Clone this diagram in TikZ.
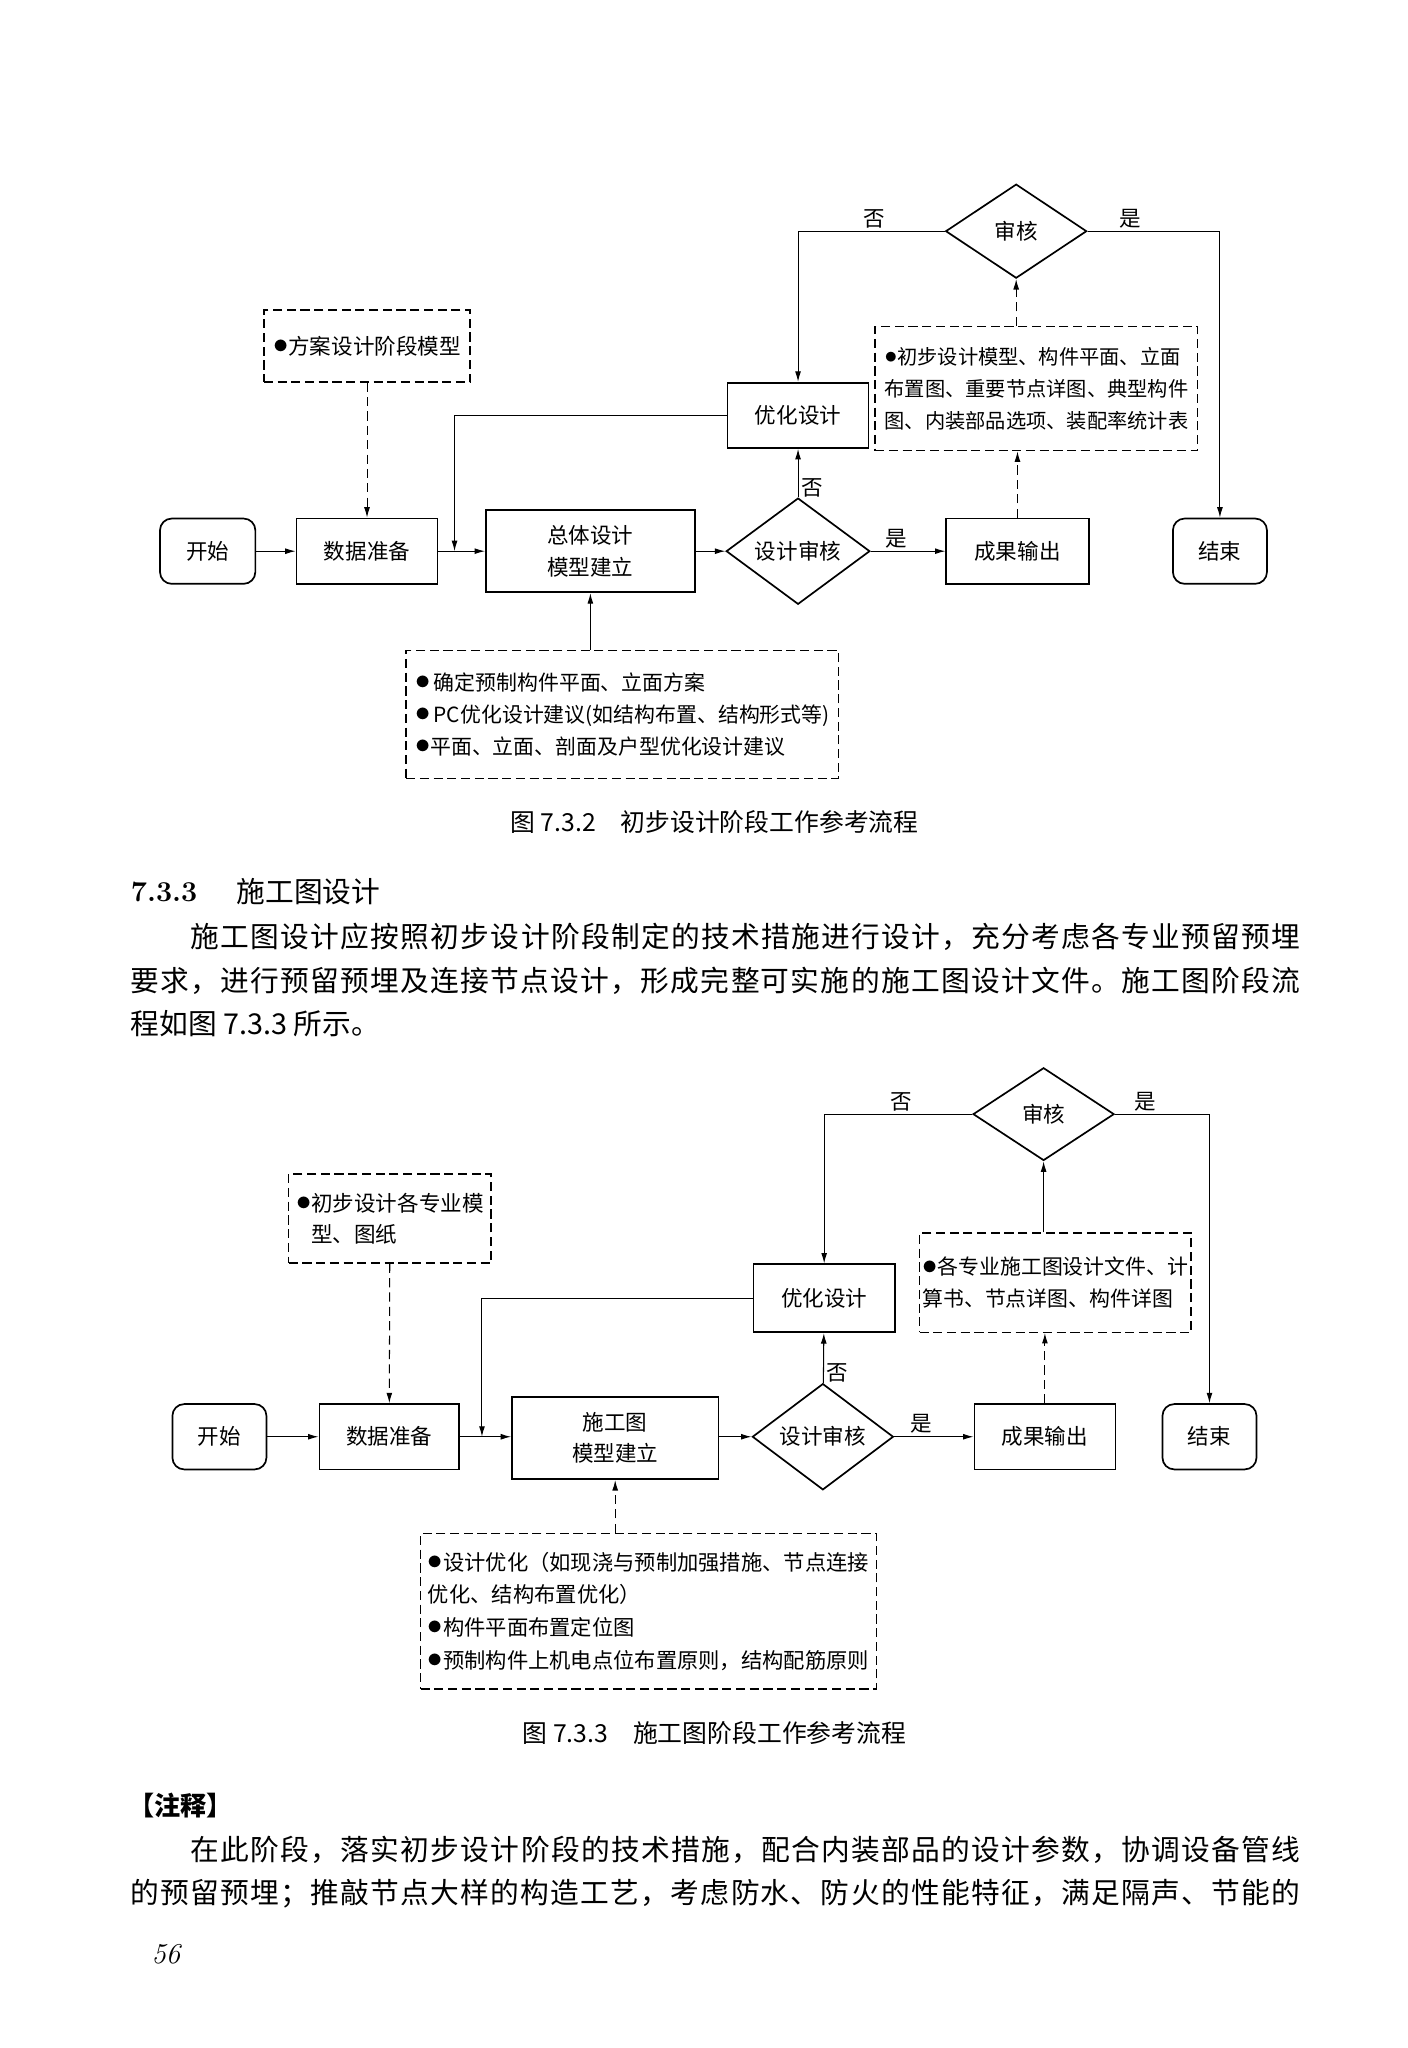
\documentclass[tikz,border=0pt]{standalone}
\usepackage{fontspec}
\newfontfamily\cjk{Noto Sans CJK SC}
\usetikzlibrary{shapes.geometric,arrows.meta}

\newcommand\chartfont{\cjk\fontsize{16.5}{24}\selectfont}
\newcommand\notefont{\cjk\fontsize{16}{24.5}\selectfont}
\newcommand\bodyfont{\cjk\fontsize{22}{30}\selectfont}
\newcommand\capfont{\cjk\fontsize{19}{24}\selectfont}
\newcommand\dotmark{\raisebox{0.02em}{\scalebox{1.35}{$\bullet$}}}

\ExplSyntaxOn
\NewDocumentCommand\spreadline{mm}
  {\makebox[#1][s]{\tl_map_inline:nn {#2} {##1\hfil}\unskip}}
\ExplSyntaxOff

\tikzset{
  box/.style={draw, line width=1.3pt, minimum width=108pt, minimum height=50pt, inner sep=2pt, align=center, font=\chartfont},
  term/.style={box, rounded corners=9pt, minimum width=73pt},
  decision/.style={diamond, draw, line width=1.3pt, inner sep=0pt, font=\chartfont},
  notebox/.style={draw, dash pattern=on 7pt off 3.5pt, line width=1.1pt, inner sep=0pt, align=left, font=\notefont},
  flow/.style={line width=0.8pt, -{Latex[length=8pt,width=4.5pt]}},
  dflow/.style={flow, dash pattern=on 7pt off 4pt},
  branch/.style={font=\chartfont, inner sep=2pt},
  bodyline/.style={anchor=west, inner sep=0pt, font=\bodyfont},
}

\begin{document}
\begin{tikzpicture}[x=1pt,y=1pt,yscale=-1,xscale=1]
    \fill[white] (0,0) rectangle (1078,1568);
    \useasboundingbox (0,0) rectangle (1078,1568);

    % ---------- Fig 7.3.2 ----------
    %Shape: Rounded Rect
    \node[term] (start1) at (159,422) {开始};
    %Shape: Rectangle
    \node[box] (data1) at (281,422) {数据准备};
    \node[box, minimum width=160pt, minimum height=63pt] (model1) at (452,422) {总体设计\\模型建立};
    %Shape: Diamond
    \node[decision, minimum width=110pt, minimum height=71pt] (check1) at (611,422) {设计审核};
    \node[box, minimum width=109pt] (out1) at (779,422) {成果输出};
    \node[term, minimum width=72pt] (end1) at (934,422) {结束};
    \node[box] (opt1) at (611,318) {优化设计};
    \node[decision, minimum width=108pt, minimum height=72pt] (rev1) at (778,177) {审核};
    %Shape: Dashed Rect
    \node[notebox, minimum width=158pt, minimum height=55pt, font=\cjk\fontsize{16.5}{24}\selectfont] (in1) at (281,265) {\dotmark 方案设计阶段模型};
    \node[notebox, minimum width=247pt, minimum height=95pt, font=\cjk\fontsize{15.5}{24.5}\selectfont] (res1) at (793.5,297.5)
      {\dotmark 初步设计模型、构件平面、立面\\布置图、重要节点详图、典型构件\\图、内装部品选项、装配率统计表};
    \node[notebox, minimum width=331pt, minimum height=98pt] (sug1) at (476.5,547)
      {\dotmark\,确定预制构件平面、立面方案\\\dotmark\,PC优化设计建议(如结构布置、结构形式等)\\\dotmark 平面、立面、剖面及户型优化设计建议};
    \coordinate (fb1) at (348,422);

    %Lines
    \draw[flow] (start1) -- (data1);
    \draw[flow] (data1) -- (model1);
    \draw[flow] (model1) -- (check1);
    \draw[flow] (check1) -- node[branch, above, pos=0.34] (yes1) {是} (out1);
    \draw[flow] (check1) -- node[branch, right, pos=0.2] (no1) {否} (opt1);
    \draw[flow] (opt1.west) -| (fb1);
    \draw[dflow] (in1) -- (data1);
    \draw[flow] (model1.south |- sug1.north) -- (model1.south);
    \draw[dflow] (out1) -- (out1 |- res1.south);
    \draw[dflow] (rev1.south |- res1.north) -- (rev1.south);
    \draw[flow] (rev1.west) -| node[branch, above, pos=0.24] (no1b) {否} (opt1.north);
    \draw[flow] (rev1.east) -| node[branch, above, pos=0.16] (yes1b) {是} (end1.north);

    % Text Node
    \node[font=\capfont] (cap1) at (547,629) {图 7.3.2\quad 初步设计阶段工作参考流程};

    % ---------- Section 7.3.3 ----------
    \node[anchor=west, inner sep=0pt, font=\fontsize{22}{26}\selectfont\bfseries] (secnum) at (100,683) {7.3.3};
    \node[bodyline] (sectitle) at (181,683) {施工图设计};
    \node[bodyline] (para1) at (146,717) {\spreadline{849pt}{施工图设计应按照初步设计阶段制定的技术措施进行设计，充分考虑各专业预留预埋}};
    \node[bodyline] (para2) at (100,751) {\spreadline{895pt}{要求，进行预留预埋及连接节点设计，形成完整可实施的施工图设计文件。施工图阶段流}};
    \node[bodyline] (para3) at (100,784) {程如图 7.3.3 所示。};

    % ---------- Fig 7.3.3 ----------
    \node[term, minimum width=72pt] (start2) at (168,1100) {开始};
    \node[box, minimum width=107pt] (data2) at (298,1100) {数据准备};
    \node[box, minimum width=158pt, minimum height=63pt] (model2) at (471,1101) {施工图\\模型建立};
    \node[decision, minimum width=108pt, minimum height=72pt] (check2) at (630,1100) {设计审核};
    \node[box] (out2) at (800,1100) {成果输出};
    \node[term, minimum width=72pt] (end2) at (926,1100) {结束};
    \node[box, minimum height=52pt] (opt2) at (631,994) {优化设计};
    \node[decision, minimum width=108pt, minimum height=71pt] (rev2) at (799,853) {审核};
    \node[notebox, minimum width=155pt, minimum height=68pt, font=\cjk\fontsize{16.5}{24}\selectfont] (in2) at (298.5,933)
      {\dotmark 初步设计各专业模\\\phantom{\dotmark}型、图纸};
    \node[notebox, minimum width=208pt, minimum height=76pt] (res2) at (808,982)
      {\dotmark 各专业施工图设计文件、计\\算书、节点详图、构件详图};
    \node[notebox, minimum width=349pt, minimum height=119pt, font=\cjk\fontsize{16.3}{25}\selectfont] (sug2) at (496.5,1233.5)
      {\dotmark 设计优化（如现浇与预制加强措施、节点连接\\优化、结构布置优化）\\\dotmark 构件平面布置定位图\\\dotmark 预制构件上机电点位布置原则，结构配筋原则};
    \coordinate (fb2) at (369,1100);

    %Lines
    \draw[flow] (start2) -- (data2);
    \draw[flow] (data2) -- (model2.west |- data2);
    \draw[flow] (model2.east |- check2) -- (check2);
    \draw[flow] (check2) -- node[branch, above, pos=0.34] (yes2) {是} (out2);
    \draw[flow] (check2) -- node[branch, right, pos=0.2] (no2) {否} (opt2);
    \draw[flow] (opt2.west) -| (fb2);
    \draw[dflow] (in2) -- (data2);
    \draw[dflow] (model2.south |- sug2.north) -- (model2.south);
    \draw[dflow] (out2) -- (out2 |- res2.south);
    \draw[flow] (rev2.south |- res2.north) -- (rev2.south);
    \draw[flow] (rev2.west) -| node[branch, above, pos=0.24] (no2b) {否} (opt2.north);
    \draw[flow] (rev2.east) -| node[branch, above, pos=0.16] (yes2b) {是} (end2.north);

    % Text Node
    \node[font=\capfont] (cap2) at (547,1327) {图 7.3.3\quad 施工图阶段工作参考流程};

    % ---------- Note ----------
    \node[anchor=west, inner sep=0pt, font=\cjk\fontsize{20}{24}\selectfont\bfseries] (notehead) at (98,1382) {【注释】};
    \node[bodyline] (note1) at (146,1416) {\spreadline{849pt}{在此阶段，落实初步设计阶段的技术措施，配合内装部品的设计参数，协调设备管线}};
    \node[bodyline] (note2) at (100,1450) {\spreadline{895pt}{的预留预埋；推敲节点大样的构造工艺，考虑防水、防火的性能特征，满足隔声、节能的}};
    \node[font=\fontsize{22}{26}\selectfont\itshape] (pageno) at (127,1496) {56};
\end{tikzpicture}
\end{document}
